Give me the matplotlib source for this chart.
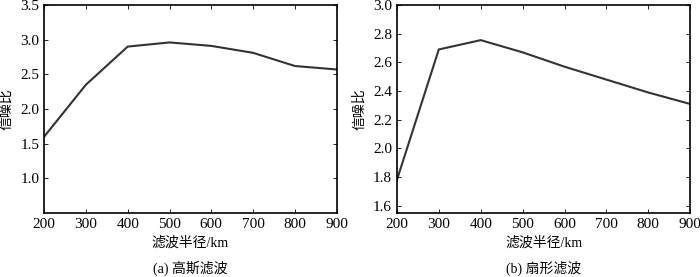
import matplotlib
matplotlib.use('Agg')
import matplotlib.pyplot as plt

plt.rcParams['font.family'] = ['Liberation Serif', 'Noto Sans CJK SC']
plt.rcParams['font.size'] = 10

# data
radius = [200, 300, 400, 500, 600, 700, 800, 900]
snr_gauss = [1.6, 2.35, 2.9, 2.96, 2.91, 2.81, 2.62, 2.57]
snr_fan = [1.78, 2.69, 2.755, 2.67, 2.57, 2.48, 2.39, 2.31]
gauss_yticks = [1.0, 1.5, 2.0, 2.5, 3.0, 3.5]
fan_yticks = [1.6, 1.8, 2.0, 2.2, 2.4, 2.6, 2.8, 3.0]

fig = plt.figure(figsize=(7, 2.77), dpi=100)
ax1 = fig.add_axes([0.063, 0.231, 0.418, 0.751])
ax2 = fig.add_axes([0.567, 0.231, 0.419, 0.751])

panels = [
    (ax1, snr_gauss, gauss_yticks, (0.5, 3.5), '(a) 高斯滤波'),
    (ax2, snr_fan, fan_yticks, (1.55, 3.0), '(b) 扇形滤波'),
]

for ax, snr, yt, ylim, caption in panels:
    ax.plot(radius, snr, color='#333333', linewidth=1.5)
    ax.set_xlim(200, 900)
    ax.set_ylim(*ylim)
    ax.set_xticks(radius)
    ax.set_yticks(yt)
    ax.set_yticklabels(['%.1f' % v for v in yt])
    ax.tick_params(direction='in', length=3, top=True, right=True, labelsize=11, width=0.6)
    ax.set_ylabel('信噪比', fontsize=10, labelpad=5)
    ax.set_xlabel('滤波半径/km', fontsize=10, labelpad=4)
    for s in ax.spines.values():
        s.set_linewidth(1.2)
    ax.text(0.5, -0.265, caption, transform=ax.transAxes, ha='center', va='center', fontsize=10)

fig.savefig('out.png', dpi=100)
plt.close()
